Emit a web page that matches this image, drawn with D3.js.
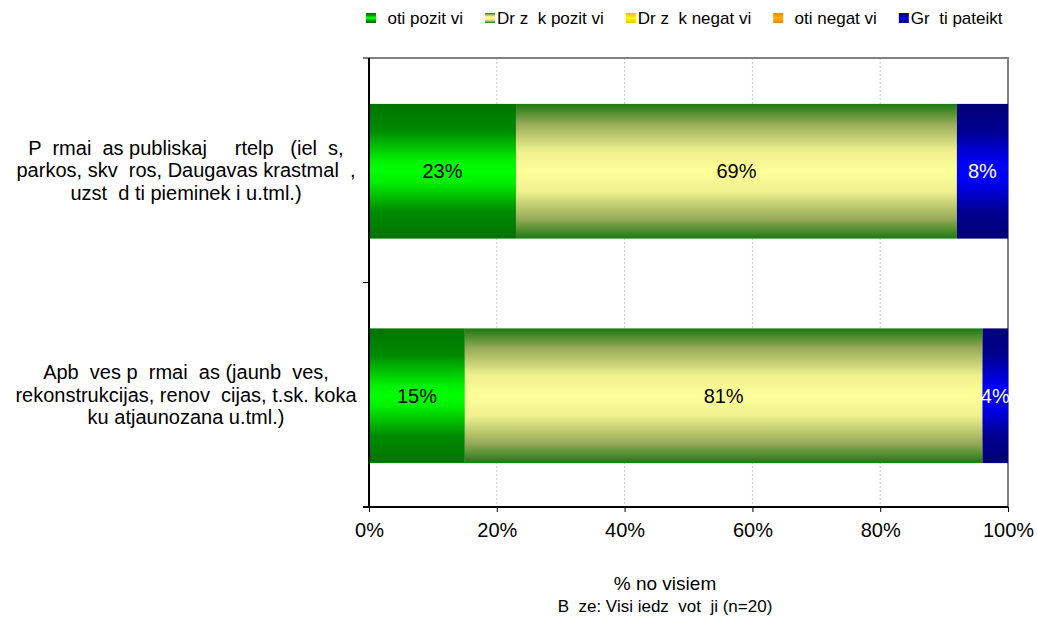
<!DOCTYPE html>
<html>
<head>
  <script src="https://d3js.org/d3.v7.min.js"></script>
  <style>
    body { margin: 0; background: #fff; }
    text { font-family: "Liberation Sans", Arial, sans-serif; white-space: pre; }
  </style>
</head>
<body>
<script>
  // chart data
  var categories = [
    ["P  rmai  as publiskaj     rtelp   (iel  s,", "parkos, skv  ros, Daugavas krastmal  ,", "uzst  d ti pieminek i u.tml.)"],
    ["Apb  ves p  rmai  as (jaunb  ves,", "rekonstrukcijas, renov  cijas, t.sk. koka", "ku atjaunozana u.tml.)"]
  ];
  var seriesNames = ["  oti pozit vi", "Dr z  k pozit vi", "Dr z  k negat vi", "  oti negat vi", "Gr  ti pateikt"];
  var veryPositive = [23, 15];
  var ratherPositive = [69, 81];
  var ratherNegative = [0, 0];
  var veryNegative = [0, 0];
  var hardToSay = [8, 4];
  var tickValues = [0, 20, 40, 60, 80, 100];
  var tickLabels = ["0%", "20%", "40%", "60%", "80%", "100%"];
  var axisTitle = "% no visiem";
  var baseNote = "B  ze: Visi iedz  vot  ji (n=20)";

  var seriesValues = [veryPositive, ratherPositive, ratherNegative, veryNegative, hardToSay];
  // gradient stops: [offset, colour], mirrored around the middle
  var gradStops = [
    [[0, "#007400"], [0.2, "#008a00"], [0.42, "#00f000"], [0.5, "#00ff00"]],
    [[0, "#1c7a10"], [0.15, "#98ab58"], [0.35, "#eef08e"], [0.5, "#ffff99"]],
    [[0, "#e6c200"], [0.3, "#ffe000"], [0.5, "#ffff00"]],
    [[0, "#e68a00"], [0.3, "#ffa000"], [0.5, "#ffb000"]],
    [[0, "#000078"], [0.2, "#000090"], [0.42, "#0000f0"], [0.5, "#0000ff"]]
  ];
  var labelColors = ["#000", "#000", "#000", "#000", "#fff"];

  var width = 1037, height = 618;
  var margin = {left: 369, top: 58, right: 29, bottom: 111};

  var svg = d3.select("body").append("svg")
    .attr("width", width)
    .attr("height", height);

  var defs = svg.append("defs");
  gradStops.forEach(function(s, i) {
    var g = defs.append("linearGradient")
      .attr("id", "grad" + i)
      .attr("x1", 0).attr("y1", 0).attr("x2", 0).attr("y2", 1);
    var all = s.concat(s.slice(0, -1).reverse().map(function(p) { return [1 - p[0], p[1]]; }));
    all.forEach(function(p) {
      g.append("stop").attr("offset", p[0]).attr("stop-color", p[1]);
    });
  });

  var x = d3.scaleLinear()
    .domain([0, 100])
    .range([margin.left, width - margin.right]);

  var y = d3.scaleBand()
    .domain(d3.range(categories.length))
    .range([margin.top, height - margin.bottom])
    .paddingInner(0.4)
    .paddingOuter(0.2);

  // stacked data
  var rows = categories.map(function(c, ci) {
    var r = {};
    seriesNames.forEach(function(n, si) { r["s" + si] = seriesValues[si][ci]; });
    return r;
  });
  var stack = d3.stack().keys(seriesNames.map(function(n, si) { return "s" + si; }));
  var stacked = stack(rows);

  // gridlines
  svg.append("g")
    .selectAll("line")
    .data(tickValues.slice(1, -1))
    .enter().append("line")
    .attr("x1", function(d) { return x(d); })
    .attr("x2", function(d) { return x(d); })
    .attr("y1", margin.top)
    .attr("y2", height - margin.bottom)
    .attr("stroke", "#c8c8c8")
    .attr("stroke-dasharray", "2,2");

  // top and right border
  svg.append("path")
    .attr("d", "M" + margin.left + "," + margin.top + "H" + x(100) + "V" + (height - margin.bottom))
    .attr("fill", "none")
    .attr("stroke", "#808080")
    .attr("stroke-width", 2);

  // bars
  var layers = svg.append("g").selectAll("g")
    .data(stacked)
    .enter().append("g")
    .attr("fill", function(d, i) { return "url(#grad" + i + ")"; });

  layers.selectAll("rect")
    .data(function(d) { return d; })
    .enter().append("rect")
    .attr("x", function(d) { return x(d[0]); })
    .attr("y", function(d, i) { return y(i) + 1; })
    .attr("width", function(d) { return x(d[1]) - x(d[0]); })
    .attr("height", y.bandwidth());

  // value labels
  stacked.forEach(function(layer, si) {
    svg.append("g").selectAll("text")
      .data(layer.filter(function(d) { return d[1] - d[0] > 0; }))
      .enter().append("text")
      .attr("x", function(d) { return (x(d[0]) + x(d[1])) / 2; })
      .attr("y", function(d) { return y(layer.indexOf(d)) + y.bandwidth() / 2 + 8; })
      .attr("text-anchor", "middle")
      .attr("font-size", 20)
      .attr("fill", labelColors[si])
      .text(function(d) { return Math.round(d[1] - d[0]) + "%"; });
  });

  // left axis
  var yEdges = [margin.top, (margin.top + height - margin.bottom) / 2, height - margin.bottom];
  svg.append("line")
    .attr("x1", margin.left).attr("x2", margin.left)
    .attr("y1", margin.top).attr("y2", height - margin.bottom)
    .attr("stroke", "#000").attr("stroke-width", 2);
  svg.append("g").selectAll("line")
    .data(yEdges)
    .enter().append("line")
    .attr("x1", margin.left - 6).attr("x2", margin.left)
    .attr("y1", function(d) { return d; }).attr("y2", function(d) { return d; })
    .attr("stroke", "#000");

  // bottom axis
  var xAxis = d3.axisBottom(x)
    .tickValues(tickValues)
    .tickFormat(function(d, i) { return tickLabels[i]; })
    .tickSize(5)
    .tickPadding(11);
  var gx = svg.append("g")
    .attr("transform", "translate(0," + (height - margin.bottom) + ")")
    .call(xAxis);
  gx.select(".domain").attr("stroke-width", 2).attr("d", "M" + (margin.left - 6) + ",0H" + x(100));
  gx.selectAll("text")
    .attr("font-size", 20)
    .attr("font-family", "Liberation Sans, Arial, sans-serif")
    .attr("fill", "#000");

  // category labels
  categories.forEach(function(lines, ci) {
    var cy = y(ci) + y.bandwidth() / 2;
    var t = svg.append("text")
      .attr("text-anchor", "middle")
      .attr("font-size", 20)
      .attr("fill", "#000");
    lines.forEach(function(line, li) {
      t.append("tspan")
        .attr("x", 186)
        .attr("y", cy + (li - 1) * 22.5 + 7)
        .text(line);
    });
  });

  // axis title and note
  svg.append("text")
    .attr("x", 665).attr("y", 590)
    .attr("text-anchor", "middle")
    .attr("font-size", 19)
    .text(axisTitle);
  svg.append("text")
    .attr("x", 665).attr("y", 612)
    .attr("text-anchor", "middle")
    .attr("font-size", 17)
    .text(baseNote);

  // legend
  var legend = svg.append("g").attr("transform", "translate(366,0)");
  var lx = 0;
  seriesNames.forEach(function(name, i) {
    var item = legend.append("g").attr("transform", "translate(" + lx + ",0)");
    item.append("rect")
      .attr("x", 0).attr("y", 13)
      .attr("width", 10).attr("height", 10)
      .attr("fill", "url(#grad" + i + ")");
    var t = item.append("text")
      .attr("x", 12).attr("y", 24)
      .attr("font-size", 17)
      .text(name);
    lx += 12 + t.node().getComputedTextLength() + 22;
  });
</script>
</body>
</html>
